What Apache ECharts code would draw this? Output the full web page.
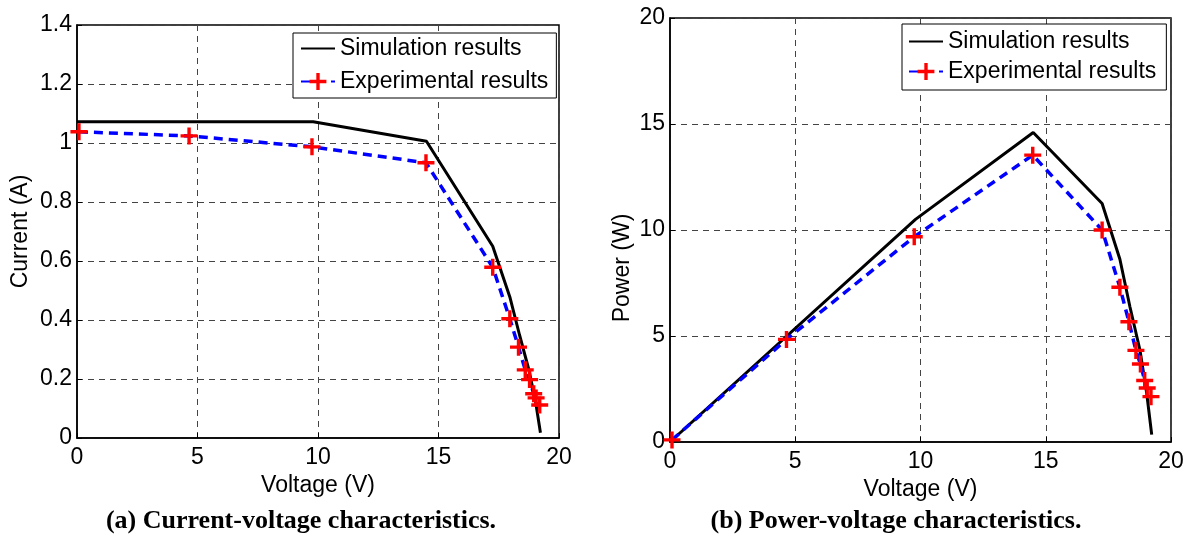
<!DOCTYPE html>
<html>
<head>
<meta charset="utf-8">
<script src="https://cdn.jsdelivr.net/npm/echarts@6/dist/echarts.min.js"></script>
<style>
  html, body { margin: 0; padding: 0; background: #fff; }
  #chart { width: 1191px; height: 538px; }
</style>
</head>
<body>
<div id="chart"></div>
<script>
// Solar panel characteristics: simulation vs. measured
const simVoltage = [0, 9.8, 14.5, 17.25, 17.96, 18.36, 18.76, 19.03, 19.23];
const simCurrent = [1.072, 1.072, 1.006, 0.65, 0.478, 0.35, 0.228, 0.122, 0.018];
const simPower   = [0, 10.5, 14.6, 11.25, 8.62, 6.38, 4.34, 2.3, 0.35];

const expVoltage = [0.08, 4.65, 9.75, 14.48, 17.25, 17.96, 18.32, 18.6, 18.78, 18.95, 19.05, 19.2];
const expCurrent = [1.038, 1.024, 0.987, 0.933, 0.579, 0.404, 0.308, 0.231, 0.198, 0.15, 0.136, 0.112];
const expPower   = [0.1, 4.84, 9.68, 13.53, 10.0, 7.3, 5.67, 4.32, 3.68, 2.9, 2.55, 2.14];

const seriesNames = ['Simulation results', 'Experimental results'];
const captions = ['(a) Current-voltage characteristics.', '(b) Power-voltage characteristics.'];

const FONT = '"Liberation Sans", Arial, sans-serif';
const FS = 23;
// red "+" marker
const PLUS = 'path://M7.2,0H10.8V7.2H18V10.8H10.8V18H7.2V10.8H0V7.2H7.2Z';
const GRID_LINE = { color: '#444', width: 1, type: [6, 5] };

const pairs = (xs, ys) => xs.map((x, i) => [x, ys[i]]);

function xAxisFor(gridIndex) {
  return {
    type: 'value', gridIndex, min: 0, max: 20, interval: 5,
    name: 'Voltage (V)', nameLocation: 'middle', nameGap: 30,
    nameTextStyle: { fontFamily: FONT, fontSize: FS, color: '#000' },
    axisLine: { show: true, onZero: false, lineStyle: { color: '#000', width: 1.5 } },
    axisTick: { show: true, inside: true, length: 5, lineStyle: { color: '#000' } },
    axisLabel: { fontFamily: FONT, fontSize: FS, color: '#000', margin: 8 },
    splitLine: { show: true, lineStyle: GRID_LINE }
  };
}

function yAxisFor(gridIndex, name, max, interval, gap, namePad) {
  return {
    type: 'value', gridIndex, min: 0, max, interval,
    name, nameLocation: 'middle', nameGap: gap,
    nameTextStyle: { fontFamily: FONT, fontSize: FS, color: '#000', padding: namePad },
    axisLine: { show: true, onZero: false, lineStyle: { color: '#000', width: 1.5 } },
    axisTick: { show: true, inside: true, length: 5, lineStyle: { color: '#000' } },
    axisLabel: { fontFamily: FONT, fontSize: FS, color: '#000', margin: 5 },
    splitLine: { show: true, lineStyle: GRID_LINE }
  };
}

function legendFor(left, top, gap, pad) {
  return {
    orient: 'vertical', left, top,
    data: [
      { name: seriesNames[0], itemStyle: { opacity: 0 } },
      { name: seriesNames[1] }
    ],
    itemWidth: 34, itemHeight: 21, itemGap: gap,
    padding: pad,
    borderColor: '#000', borderWidth: 1, borderRadius: 0,
    backgroundColor: '#fff',
    textStyle: { fontFamily: FONT, fontSize: FS, color: '#000', lineHeight: 22 }
  };
}

function simSeries(xi, yi, data) {
  return {
    name: seriesNames[0], type: 'line', xAxisIndex: xi, yAxisIndex: yi,
    data, symbol: 'none', z: 2,
    lineStyle: { color: '#000', width: 3 },
    itemStyle: { color: '#000' }
  };
}

function expSeries(xi, yi, data) {
  return {
    name: seriesNames[1], type: 'line', xAxisIndex: xi, yAxisIndex: yi,
    data, symbol: PLUS, symbolSize: 17, z: 3,
    lineStyle: { color: '#0000ff', width: 3.5, type: [9, 6] },
    itemStyle: { color: '#ff0000' }
  };
}

const chart = echarts.init(document.getElementById('chart'), null, { renderer: 'canvas' });

const captionFont = 'bold 26px "Liberation Serif", "Times New Roman", serif';

chart.setOption({
  backgroundColor: '#fff',
  animation: false,
  grid: [
    { left: 77, top: 25, width: 482, height: 413, show: true, borderColor: '#000', borderWidth: 1.5, backgroundColor: 'transparent' },
    { left: 670, top: 18, width: 501, height: 424, show: true, borderColor: '#000', borderWidth: 1.5, backgroundColor: 'transparent' }
  ],
  xAxis: [xAxisFor(0), xAxisFor(1)],
  yAxis: [
    yAxisFor(0, 'Current (A)', 1.4, 0.2, 45, 0),
    yAxisFor(1, 'Power (W)', 20, 5, 36, [0, 76, 0, 0])
  ],
  legend: [
    legendFor(293, 33, 10, [4, 8, 5, 7]),
    legendFor(902, 24, 7, [6, 10, 7, 6])
  ],
  series: [
    simSeries(0, 0, pairs(simVoltage, simCurrent)),
    expSeries(0, 0, pairs(expVoltage, expCurrent)),
    simSeries(1, 1, pairs(simVoltage, simPower)),
    expSeries(1, 1, pairs(expVoltage, expPower))
  ],
  graphic: [
    { type: 'text', x: 301, y: 521, style: { text: captions[0], font: captionFont, fill: '#000', align: 'center', verticalAlign: 'middle', textAlign: 'center', textVerticalAlign: 'middle' } },
    { type: 'text', x: 896, y: 521, style: { text: captions[1], font: captionFont, fill: '#000', align: 'center', verticalAlign: 'middle', textAlign: 'center', textVerticalAlign: 'middle' } }
  ]
});
</script>
</body>
</html>
